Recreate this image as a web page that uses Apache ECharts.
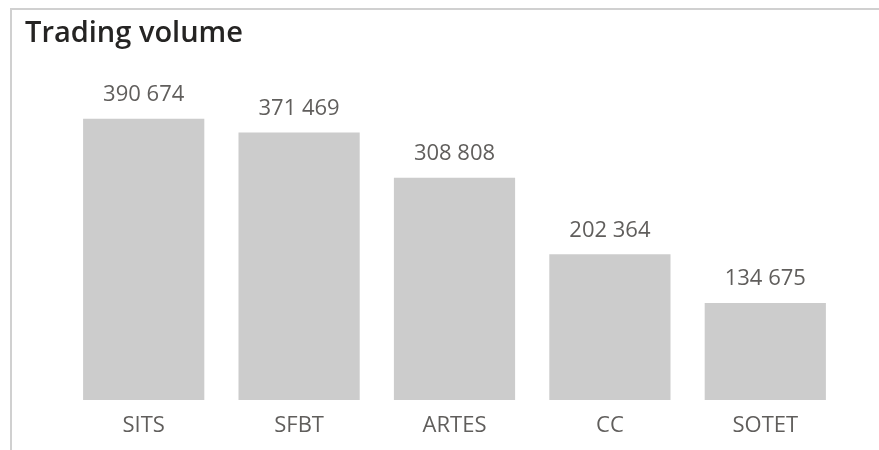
<!DOCTYPE html>
<html>
<head>
<meta charset="utf-8">
<script src="https://cdn.jsdelivr.net/npm/echarts@6/dist/echarts.min.js"></script>
<style>
html,body{margin:0;padding:0;background:#fff;}
#c{width:879px;height:450px;}
</style>
</head>
<body>
<div id="c"></div>
<script>
const categories = ['SITS', 'SFBT', 'ARTES', 'CC', 'SOTET'];
const volumes = [390674, 371469, 308808, 202364, 134675];
const titleText = 'Trading volume';

const FONT = '"Segoe UI", "Open Sans", "Noto Sans", sans-serif';
function fmt(v) {
  return String(v).replace(/\B(?=(\d{3})+(?!\d))/g, ' ');
}

const chart = echarts.init(document.getElementById('c'), null, {renderer: 'canvas'});
chart.setOption({
  animation: false,
  backgroundColor: '#ffffff',
  title: {
    text: titleText,
    left: 20,
    top: 14,
    textStyle: {fontFamily: FONT, fontSize: 29, fontWeight: 600, color: '#252423'}
  },
  graphic: [
    {type: 'line', shape: {x1: 10, y1: 9, x2: 879, y2: 9}, style: {stroke: '#d0d0d0', lineWidth: 2}},
    {type: 'line', shape: {x1: 11, y1: 8, x2: 11, y2: 450}, style: {stroke: '#d0d0d0', lineWidth: 2}}
  ],
  grid: {left: 66, right: 36, top: 76, bottom: 50, containLabel: false},
  xAxis: {
    type: 'category',
    data: categories,
    axisLine: {show: false},
    axisTick: {show: false},
    axisLabel: {fontFamily: FONT, fontSize: 22, color: '#605e5c', margin: 15}
  },
  yAxis: {
    type: 'value',
    min: 0,
    max: 450000,
    show: false,
    splitLine: {show: false}
  },
  series: [{
    type: 'bar',
    data: volumes,
    barCategoryGap: '22%',
    itemStyle: {color: '#cccccc'},
    label: {
      show: true,
      position: 'top',
      distance: 13,
      fontFamily: FONT,
      fontSize: 22,
      color: '#605e5c',
      formatter: p => fmt(p.value)
    }
  }]
});
</script>
</body>
</html>
